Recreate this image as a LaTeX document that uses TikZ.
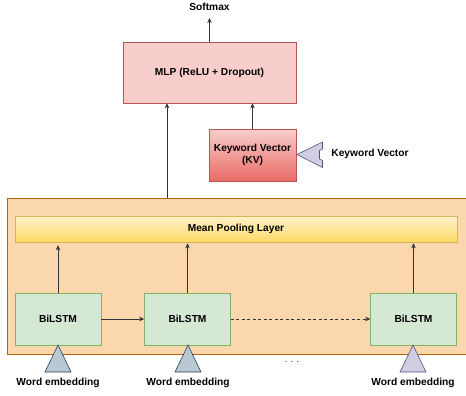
\documentclass[tikz,border=0pt]{standalone}
\usepackage{fontspec}
\setmainfont{Liberation Sans}
\usetikzlibrary{arrows.meta}
\definecolor{mlpfill}{HTML}{F8CECC}
\definecolor{mlpline}{HTML}{B85450}
\definecolor{kvbot}{HTML}{EA6B66}
\definecolor{orfill}{HTML}{FAD7AC}
\definecolor{orline}{HTML}{B46504}
\definecolor{yltop}{HTML}{FFF2CC}
\definecolor{ylbot}{HTML}{FFD966}
\definecolor{ylline}{HTML}{D6B656}
\definecolor{grfill}{HTML}{D5E8D4}
\definecolor{grline}{HTML}{82B366}
\definecolor{bgfill}{HTML}{BAC8D3}
\definecolor{bgline}{HTML}{23445D}
\definecolor{pufill}{HTML}{D0CEE2}
\definecolor{puline}{HTML}{56517E}
\tikzset{
  txt/.style={font=\fontsize{10.2}{12}\selectfont\bfseries, text=black},
  box/.style={txt, draw, line width=0.6pt, minimum width=#1, minimum height=52pt, inner sep=1pt, align=center},
  lstm/.style={box=86pt, fill=grfill, draw=grline},
  arr/.style={-{Stealth[length=5pt,width=4.5pt]}, line width=0.6pt, draw=black!80},
  tri/.style={line width=0.6pt},
}
\begin{document}
\begin{tikzpicture}[x=1pt,y=-1pt]
\useasboundingbox (0,0) rectangle (466,396);
% outer orange box
\node[draw=orline, fill=orfill, line width=0.6pt, minimum width=460pt, minimum height=156pt, inner sep=0pt, anchor=north west] (outer) at (7,198) {};
% MLP
\node[box=173pt, minimum height=61pt, fill=mlpfill, draw=mlpline] (mlp) at (209.5,72.5) {MLP (ReLU + Dropout)};
% KV
\node[box=87pt, top color=mlpfill, bottom color=kvbot, draw=mlpline] (kv) at (252.5,155) {Keyword Vector\\(KV)};
% mean pooling
\node[box=442pt, minimum height=26pt, top color=yltop, bottom color=ylbot, draw=ylline] (pool) at (236,229) {Mean Pooling Layer};
% BiLSTMs
\node[lstm] (l1) at (58,319) {BiLSTM};
\node[lstm] (l2) at (187.5,319) {BiLSTM};
\node[lstm] (l3) at (413.5,319) {BiLSTM};
% texts
\node[txt] (soft) at (209.5,7) {Softmax};
\node[txt] (kvlab) at (370,154) {Keyword Vector};
\node[txt] (w1) at (58,383) {Word embedding};
\node[txt] (w2) at (188,383) {Word embedding};
\node[txt] (w3) at (413,383) {Word embedding};
\node[font=\fontsize{9}{10}\selectfont] (dots) at (292,362) {. . .};
% arrows
\coordinate (softin) at (209.5,18);
\draw[arr] (mlp.north) -- (softin);
\draw[arr] (outer.north west -| 167,0) -- (mlp.south -| 167,0);
\draw[arr] (kv.north) -- (kv.north |- mlp.south);
\draw[arr] (l1.north) -- ([yshift=-3pt]l1.north |- pool.south);
\draw[arr] (l2.north) -- ([yshift=-1pt]l2.north |- pool.south);
\draw[arr] (l3.north) -- ([yshift=-1pt]l3.north |- pool.south);
\draw[arr] (l1.east) -- (l2.west);
\draw[arr, dashed, dash pattern=on 3pt off 2.5pt] (l2.east) -- (l3.west);
% keyword vector input shape
\draw[tri, fill=pufill, draw=puline] (297,154.5) -- (322.5,142) -- (322.5,149) -- (319.5,150.5) -- (319.5,159) -- (322.5,160.5) -- (322.5,167.5) -- cycle;
% triangles
\draw[tri, fill=bgfill, draw=bgline] (45,372) -- (58,345) -- (71,372) -- cycle;
\draw[tri, fill=bgfill, draw=bgline] (175,372) -- (188,345) -- (201,372) -- cycle;
\draw[tri, fill=pufill, draw=puline] (400,372) -- (413,345) -- (426,372) -- cycle;
\end{tikzpicture}
\end{document}
